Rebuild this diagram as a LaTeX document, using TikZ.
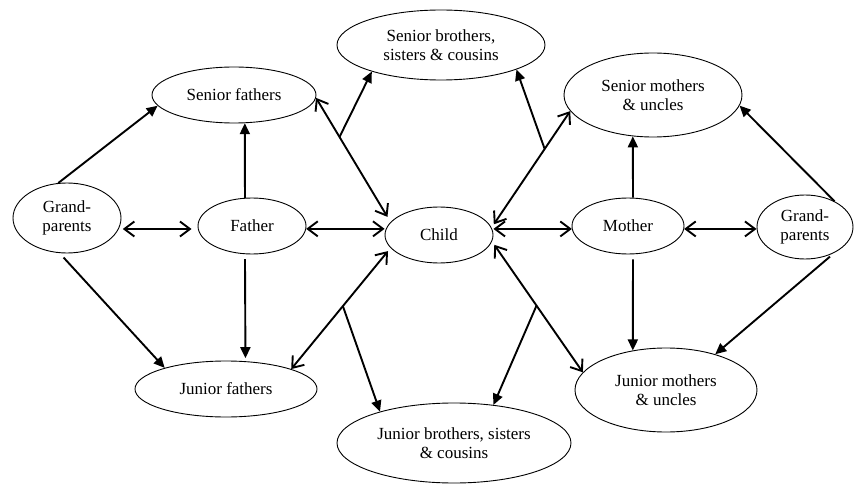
\documentclass[tikz,border=0pt]{standalone}
\usepackage{fontspec}
\setmainfont{Liberation Serif}
\usetikzlibrary{arrows.meta,positioning,shapes.geometric}
\begin{document}
\begin{tikzpicture}[
  x=1pt, y=-1pt,
  ell/.style={draw, ellipse, line width=0.9pt, inner sep=0pt, align=center, font=\fontsize{17}{19}\selectfont},
  arr/.style={line width=1.9pt, -{Triangle[length=11pt,width=10pt]}},
  dbl/.style={line width=1.9pt, {Straight Barb[length=10pt,width=15pt]}-{Straight Barb[length=10pt,width=15pt]}}
]
\useasboundingbox (0,0) rectangle (855,484);
\node[ell, minimum width=108pt, minimum height=70pt] (gp1) at (67,218) {Grand-\\parents};
\node[ell, minimum width=108pt, minimum height=56pt] (fa) at (252,226) {Father};
\node[ell, minimum width=164pt, minimum height=56pt] (sf) at (234,95) {Senior fathers};
\node[ell, minimum width=208pt, minimum height=70pt] (sb) at (441,45) {Senior brothers,\\sisters \& cousins};
\node[ell, minimum width=108pt, minimum height=56pt] (ch) at (439,235) {Child};
\node[ell, minimum width=178pt, minimum height=84pt] (sm) at (653,95) {Senior mothers\\\& uncles};
\node[ell, minimum width=112pt, minimum height=56pt] (mo) at (628,226) {Mother};
\node[ell, minimum width=96pt, minimum height=64pt] (gp2) at (805,227) {Grand-\\parents};
\node[ell, minimum width=182pt, minimum height=56pt] (jf) at (226,389) {Junior fathers};
\node[ell, minimum width=234pt, minimum height=80pt] (jb) at (454,443) {Junior brothers, sisters\\\& cousins};
\node[ell, minimum width=182pt, minimum height=84pt] (jm) at (666,390) {Junior mothers\\\& uncles};
\draw[arr] (gp1.104) -- (sf.188);
\draw[arr] (fa.104) -- (sf.-69);
\draw[dbl, shorten <=4pt, shorten >=6pt] (gp1.-12) -- (gp1.-12 -| fa.west);
\draw[dbl] (fa.-3) -- (fa.-3 -| ch.west);
\draw[dbl, shorten >=6pt] (sf.-2) -- coordinate[pos=0.315] (b1) (ch.165);
\draw[arr] (b1) -- (sb.201);
\draw[dbl, shorten <=4pt] (ch.195) -- coordinate[pos=0.48] (b2) (jf.17);
\draw[arr] (b2) -- (jb.157);
\draw[arr, shorten <=6pt] (gp1.-102) -- (jf.161);
\draw[arr, shorten <=5pt, shorten >=3pt] (fa.-104) -- (jf.55);
\draw[dbl, shorten <=4pt] (ch.8) -- coordinate[pos=0.675] (b3) (sm.191);
\draw[arr] (b3) -- (sb.-18);
\draw[dbl] (mo.183 -| ch.east) -- (mo.183);
\draw[dbl] (mo.-3) -- (mo.-3 -| gp2.west);
\draw[arr] (mo.80) -- (sm.244);
\draw[arr] (gp2.41) -- (sm.-7);
\draw[dbl, shorten <=4pt] (ch.-7) -- coordinate[pos=0.49] (b4) (jm.168);
\draw[arr] (b4) -- (jb.44);
\draw[arr, shorten <=5pt] (mo.-80) -- (jm.130);
\draw[arr, shorten <=6pt] (gp2.-41) -- (jm.36);
\end{tikzpicture}
\end{document}
